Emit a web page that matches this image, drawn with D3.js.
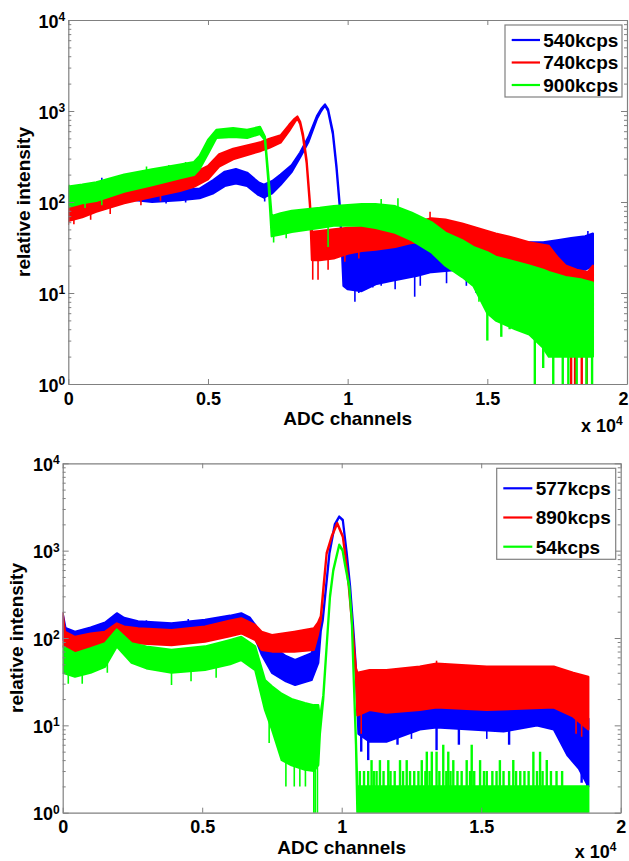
<!DOCTYPE html>
<html>
<head>
<meta charset="utf-8">
<script src="https://cdn.jsdelivr.net/npm/d3@7"></script>
<style>
body{margin:0;background:#fff}
text{font-family:"Liberation Sans",Arial,sans-serif;font-weight:bold;fill:#000}
.tick text{font-size:18px}
</style>
</head>
<body>
<svg id="chart" width="629" height="861"></svg>
<script>
// x in units of 10^4 ADC channels, [x, low, high] of the noisy band
const xTicks = [0, 0.5, 1, 1.5, 2]
const colours = ["#0000ff", "#ff0000", "#00ff00"]
const topNames = ["540kcps", "740kcps", "900kcps"]
const bottomNames = ["577kcps", "890kcps", "54kcps"]

const top540 = [[0,95,140],[0.03,98,145],[0.1,100,150],[0.15,105,175],[0.2,108,170],[0.3,100,140],[0.4,105,135],[0.47,110,140],
  [0.52,125,175],[0.56,150,215],[0.6,160,230],[0.64,150,210],[0.68,120,165],[0.7,112,155],[0.73,125,170],[0.76,155,200],
  [0.8,215,255],[0.83,310,350],[0.86,460,520],[0.89,820,880],[0.905,1000,1050],[0.919,1150,1180],[0.93,1000,1040],
  [0.947,560,590],[0.96,235,250],[0.972,85,92],[0.98,27,30],[0.985,12,28],[1.0,11,35],[1.05,10.5,38],[1.1,12.5,40],
  [1.15,13.5,42],[1.2,14.5,40],[1.25,15.5,38],[1.3,17,38],[1.4,18,38],[1.5,18,38],[1.6,18,36],[1.7,18,36],[1.75,17,38],
  [1.8,18,40],[1.85,18,42],[1.878,20,45]]
const top740 = [[0,62,100],[0.05,68,108],[0.1,78,118],[0.2,97,148],[0.3,114,170],[0.4,132,193],[0.45,147,208],[0.5,178,248],
  [0.54,245,335],[0.59,295,385],[0.65,335,425],[0.69,365,455],[0.72,395,495],[0.76,450,540],[0.79,600,700],[0.81,750,820],
  [0.82,830,870],[0.83,720,760],[0.84,520,560],[0.853,270,290],[0.865,90,100],[0.872,23,47],[0.9,23,48],[0.95,24,50],
  [1.0,27,52],[1.05,29,53],[1.1,30,52],[1.17,32,50],[1.22,35,58],[1.3,38,66],[1.35,36,64],[1.41,32,58],[1.47,27,51],
  [1.53,22,45],[1.6,20,40],[1.65,18,36],[1.72,15,33],[1.75,12,25],[1.78,10,20],[1.82,8,18],[1.86,7,17],[1.878,6,20]]
const top900 = [[0,88,148],[0.05,97,155],[0.1,103,165],[0.2,130,200],[0.3,153,228],[0.4,183,258],[0.45,198,275],[0.47,230,320],
  [0.5,340,480],[0.53,505,620],[0.59,520,650],[0.64,505,620],[0.686,560,670],[0.704,480,520],[0.716,170,200],[0.728,42,70],
  [0.76,44,75],[0.8,47,80],[0.9,52,86],[0.95,55,90],[1.05,55,95],[1.1,52,95],[1.17,46,90],[1.23,38,76],[1.3,28,60],
  [1.35,20,46],[1.41,15,38],[1.45,12,32],[1.5,6,28],[1.53,5,25],[1.6,4,22],[1.65,3.5,20],[1.7,2.5,18],[1.72,2,17],
  [1.78,2,15],[1.84,2,14],[1.878,2,13]]

const top540Spikes = [[0.12,185],[0.17,192],[0.25,178],[0.35,96],[0.42,99],[0.703,101],[1.0,10.8],[1.026,8],[1.04,10],
  [1.065,11],[1.09,11.5],[1.12,12],[1.17,11],[1.24,9.1],[1.26,12],[1.354,12.8],[1.425,12],[1.46,10],[1.79,15],[1.86,48]]
const top740Spikes = [[0,56],[0.02,57],[0.08,64],[0.15,74],[0.26,92],[0.33,102],[0.875,14],[0.894,14],[0.93,18],[0.99,22],
  [1.04,24],[1.295,78],[1.77,2],[1.8,0.5],[1.814,0.5],[1.838,0.5],[1.856,0.5],[1.87,3]]
const top900Spikes = [[0.003,155],[0.06,86],[0.12,92],[0.28,245],[0.36,255],[0.42,275],[0.735,36],[0.78,40],[0.93,32],
  [1.12,108],[1.18,110],[1.47,8],[1.5,3],[1.55,3.3],[1.58,4],[1.63,3.9],[1.67,0.5],[1.7,1.5],[1.736,0.5],[1.77,0.5],
  [1.79,0.5],[1.82,0.5],[1.855,0.5],[1.875,0.5]]

const bottom577 = [[0,95,190],[0.01,92,130],[0.044,90,118],[0.1,98,132],[0.152,108,150],[0.194,125,192],[0.22,115,170],
  [0.27,105,155],[0.39,100,147],[0.51,108,161],[0.6,118,180],[0.64,125,192],[0.67,115,172],[0.69,100,141],[0.713,65,102],
  [0.75,40,80],[0.8,32,62],[0.833,29,56],[0.892,33,67],[0.916,52,103],[0.925,120,140],[0.932,158,165],[0.944,380,395],
  [0.956,920,945],[0.975,1950,2000],[0.991,2440,2460],[1.004,2220,2250],[1.018,920,945],[1.03,380,395],[1.039,158,165],
  [1.044,90,100],[1.051,40,45],[1.06,8,28],[1.1,6.5,22],[1.16,6.5,22],[1.28,9,25],[1.34,9.5,26],[1.46,9,25],
  [1.58,8.5,25],[1.7,10,26],[1.76,9,24],[1.81,4.5,17],[1.85,3.2,13],[1.884,2,12]]
const bottom890 = [[0,80,193],[0.008,80,118],[0.044,70,103],[0.1,76,112],[0.152,80,118],[0.194,99,147],[0.22,92,135],
  [0.27,87,129],[0.39,83,123],[0.51,91,135],[0.6,105,158],[0.64,113,168],[0.69,95,141],[0.713,73,118],[0.75,70,108],
  [0.83,70,118],[0.9,73,129],[0.915,110,150],[0.925,160,178],[0.935,370,400],[0.946,920,945],[0.964,1430,1460],
  [0.984,2040,2070],[1.004,1430,1460],[1.012,920,945],[1.025,395,410],[1.036,158,165],[1.045,68,72],[1.051,35,45],
  [1.056,13,40],[1.1,15,43],[1.16,14,43],[1.28,15,47],[1.34,16,51],[1.52,15,47],[1.76,16,47],[1.83,12.6,40],[1.884,9,36]]
const bottom54 = [[0,40,80],[0.044,36,67],[0.1,40,76],[0.152,47,87],[0.194,80,125],[0.247,52,87],[0.3,45,80],[0.39,40,73],
  [0.51,43,80],[0.6,50,95],[0.64,56,103],[0.69,43,80],[0.725,15,33],[0.75,9,28],[0.785,4,23],[0.82,3.5,20],[0.868,3.1,18],
  [0.9,3,17],[0.916,3.5,17],[0.922,8,12],[0.934,20,22],[0.946,78,82],[0.958,290,305],[0.97,590,610],[0.991,1150,1170],
  [1.003,1000,1020],[1.012,680,700],[1.027,380,395],[1.036,158,165],[1.042,42,45],[1.051,6,7],[1.056,1,2],[1.884,1,2]]

const bottom577Spikes = [[0.3,160],[0.45,165],[1.07,5],[1.095,4],[1.2,6],[1.25,7],[1.34,5.2],[1.42,6],[1.52,7],[1.6,6],
  [1.86,2.2],[1.88,2]]
const bottom890Spikes = [[1.07,8],[1.34,55],[1.84,8],[1.86,7.4]]
const bottom54Spikes = [[0.02,30],[0.07,30],[0.16,40],[0.39,29],[0.46,32],[0.55,35],[0.74,6.3],[0.8,2],[0.83,2],[0.85,2],
  [0.87,2],[0.9,0.5],[0.905,0.5],[0.913,0.5],
  [1.065,3],[1.08,3],[1.095,3],[1.115,3],[1.125,3],[1.15,3],[1.175,3],[1.19,3],[1.22,3],[1.245,3],[1.26,3],[1.275,3],
  [1.3,3],[1.315,3],[1.35,3],[1.375,3],[1.39,3],[1.415,3],[1.43,3],[1.46,3],[1.475,3],[1.51,3],[1.52,3],[1.54,3],
  [1.555,3],[1.58,3],[1.6,3],[1.625,3],[1.64,3],[1.655,3],[1.67,3],[1.7,3],[1.72,3],[1.75,3],[1.77,3],[1.79,3],
  [1.107,4],[1.137,4],[1.167,4],[1.209,4],[1.233,4],[1.287,4],[1.4,4],[1.448,4],[1.496,4],[1.567,4],[1.615,4],[1.735,4],
  [1.305,5],[1.323,5],[1.34,5],[1.382,5],[1.687,5],[1.711,5],[1.364,6],[1.466,6]]

const panels = [
  {id: "top", left: 68.3, right: 627, top: 20, bottom: 384, ylabX: 30, x10dy: 48,
   series: [top540, top740, top900], spikes: [top540Spikes, top740Spikes, top900Spikes], names: topNames,
   legend: {x: 505, y: 25, w: 117, h: 72, first: 15, row: 22.5, line: 6.7, len: 28.3, tx: 38.3}},
  {id: "bottom", left: 62.7, right: 620.7, top: 463.3, bottom: 812.7, ylabX: 23, x10dy: 45.5,
   series: [bottom577, bottom890, bottom54], spikes: [bottom577Spikes, bottom890Spikes, bottom54Spikes], names: bottomNames,
   legend: {x: 496.7, y: 468.3, w: 119, h: 91, first: 20, row: 29.2, line: 6.6, len: 29, tx: 39}}
]

const svg = d3.select("#chart")
const bis = d3.bisector(d => d[0]).center
const isMajor = d => Math.abs(Math.log10(d) - Math.round(Math.log10(d))) < 1e-9

panels.forEach(drawPanel)

function drawPanel(p){
	const x = d3.scaleLinear().domain([0, 2]).range([p.left, p.right])
	const y = d3.scaleLog().domain([1, 1e4]).range([p.bottom, p.top])
	const g = svg.append("g").attr("id", p.id)

	g.append("clipPath").attr("id", "clip-" + p.id).append("rect")
		.attr("x", p.left).attr("y", p.top).attr("width", p.right - p.left).attr("height", p.bottom - p.top)
	const plot = g.append("g").attr("clip-path", `url(#clip-${p.id})`)

	const area = d3.area().x(d => x(d[0])).y0(d => y(d[1])).y1(d => y(d[2]))
	p.series.forEach((s, i) => {
		const c = colours[i]
		plot.append("path").datum(s).attr("d", area)
			.attr("fill", c).attr("stroke", c).attr("stroke-width", 2.2).attr("stroke-linejoin", "round")
		plot.selectAll(null).data(p.spikes[i]).enter().append("line")
			.attr("x1", d => x(d[0])).attr("x2", d => x(d[0]))
			.attr("y1", d => { const a = s[bis(s, d[0])]; return y(Math.sqrt(a[1] * a[2])) })
			.attr("y2", d => y(d[1]))
			.attr("stroke", c).attr("stroke-width", d => d[1] < 7 && d[0] > 1.05 ? 2.4 : 1.6)
	})

	// axes, ticks pointing inward
	const axisCol = "#808080"
	const xb = g.append("g").attr("transform", `translate(0,${p.bottom})`).attr("color", axisCol)
		.call(d3.axisBottom(x).tickValues(xTicks).tickSize(-5).tickSizeOuter(0).tickPadding(8).tickFormat(d3.format("~g")))
	// keep the last label inside the page
	xb.selectAll(".tick text").filter(d => x(d) + 6 > 629).attr("dx", d => 623 - x(d))
	const xt = g.append("g").attr("transform", `translate(0,${p.top})`).attr("color", axisCol)
		.call(d3.axisTop(x).tickValues(xTicks).tickSize(-5).tickSizeOuter(0).tickFormat(""))
	const yl = g.append("g").attr("transform", `translate(${p.left},0)`).attr("color", axisCol)
		.call(d3.axisLeft(y).tickValues(y.ticks()).tickSize(-3).tickSizeOuter(0).tickPadding(3)
			.tickFormat(d => isMajor(d) ? "10" : ""))
	const yr = g.append("g").attr("transform", `translate(${p.right},0)`).attr("color", axisCol)
		.call(d3.axisRight(y).tickValues(y.ticks()).tickSize(-3).tickSizeOuter(0).tickFormat(""))
	yl.selectAll(".tick").filter(isMajor).select("line").attr("x2", 6)
	yr.selectAll(".tick").filter(isMajor).select("line").attr("x2", -6)
	yl.selectAll(".tick text").attr("dy", "0.4em")
		.filter(d => isMajor(d)).append("tspan").attr("dy", "-0.55em").style("font-size", "12px")
		.text(d => Math.round(Math.log10(d)))
	;[xb, xt, yl, yr].forEach(a => a.select(".domain").attr("stroke-width", 1.2))

	// axis titles
	g.append("text").attr("x", (p.left + p.right) / 2).attr("y", p.bottom + 41)
		.attr("text-anchor", "middle").style("font-size", "19px").text("ADC channels")
	const x10 = g.append("text").attr("x", p.right - 46).attr("y", p.bottom + p.x10dy).style("font-size", "18px")
	x10.append("tspan").text("x 10")
	x10.append("tspan").attr("dy", "-0.6em").style("font-size", "12px").text("4")
	g.append("text").attr("transform", `translate(${p.ylabX},${(p.top + p.bottom) / 2}) rotate(-90)`)
		.attr("text-anchor", "middle").style("font-size", "19px").text("relative intensity")

	// legend
	const L = p.legend
	const lg = g.append("g").attr("transform", `translate(${L.x},${L.y})`)
	lg.append("rect").attr("width", L.w).attr("height", L.h).attr("fill", "#fff").attr("stroke", axisCol).attr("stroke-width", 1.2)
	const rows = lg.selectAll(".row").data(p.names).enter().append("g")
		.attr("transform", (d, i) => `translate(0,${L.first + i * L.row})`)
	rows.append("line").attr("x1", L.line).attr("x2", L.line + L.len)
		.attr("stroke", (d, i) => colours[i]).attr("stroke-width", 2.2)
	rows.append("text").attr("x", L.tx).attr("dy", "0.36em").style("font-size", "19px").text(d => d)
}
</script>
</body>
</html>
